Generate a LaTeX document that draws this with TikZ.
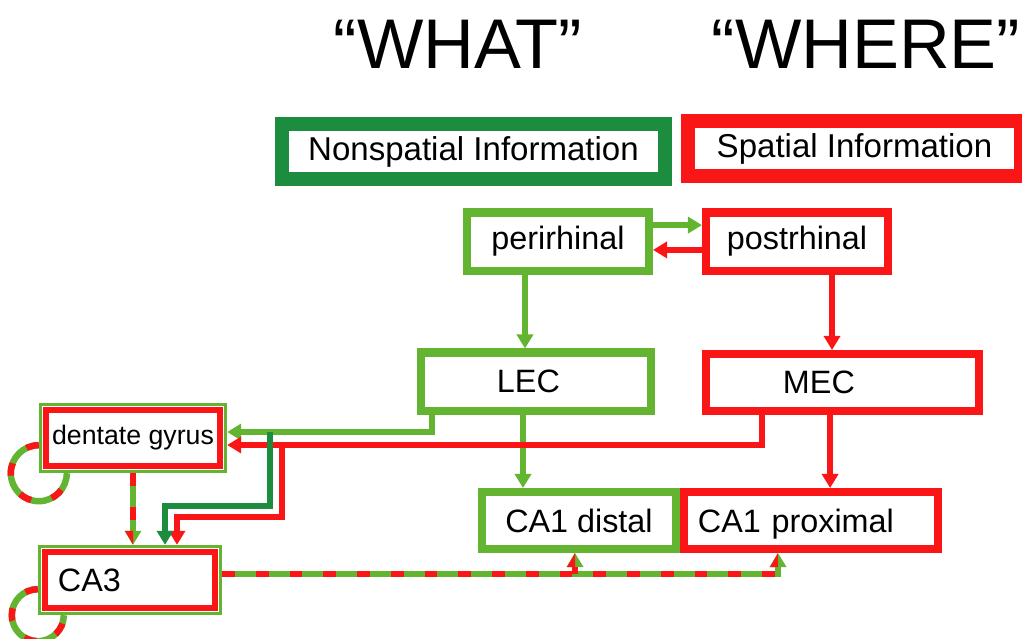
\documentclass[tikz,border=0pt]{standalone}
\usepackage{fontspec}
\setmainfont{Liberation Sans}
\usetikzlibrary{arrows.meta,positioning,calc,fit}

\definecolor{lgreen}{RGB}{99,180,48}
\definecolor{dgreen}{RGB}{28,140,62}
\definecolor{rd}{RGB}{250,22,22}

\begin{document}
\begin{tikzpicture}[
    x=0.025cm, y=-0.025cm,
    font=\fontsize{23}{27}\selectfont,
    title/.style={font=\fontsize{50}{56}\selectfont, inner sep=0pt},
    header/.style={draw, line width=10pt, fill=white, minimum width=#1, minimum height=1.375cm, inner sep=0pt, font=\fontsize{23.5}{27}\selectfont},
    block/.style={draw, line width=5.7pt, fill=white, minimum height=1.45cm, inner sep=0pt},
    what/.style={block, draw=lgreen},
    where/.style={block, draw=rd},
    innerbox/.style={draw=rd, line width=4.3pt, fill=white, minimum height=1.4cm, inner sep=0pt},
    gframe/.style={draw=lgreen, line width=2.5pt, inner sep=0.06cm},
    headtip/.style={-{Triangle[length=0.35cm, width=0.4cm]}},
    garrow/.style={headtip, draw=lgreen, line width=4.3pt},
    rarrow/.style={headtip, draw=rd, line width=4.3pt},
    darrow/.style={headtip, draw=dgreen, line width=4.3pt},
    mixed/.style={draw=lgreen, line width=4.6pt},
    reddash/.style={draw=rd, line width=4.6pt, dash pattern=on 9pt off 15pt}
  ]
  \useasboundingbox (0,0) rectangle (1022,639);

  % titles and the two streams
  \node[title] (what) at (458,44) {“WHAT”};
  \node[title] (where) at (866,44) {“WHERE”};
  \node[header=9.575cm, draw=dgreen] (nonsp) at (473.5,151.5) {Nonspatial Information};
  \node[header=8.325cm, draw=rd] (spat) at (854.5,148.5) {Spatial Information};

  % cortex
  \node[what, minimum width=4.55cm] (peri) at (558,241.5) {perirhinal};
  \node[where, minimum width=4.55cm] (post) at (797,241.5) {postrhinal};
  \node[what, minimum width=5.75cm, text width=1.95cm, inner xsep=1.9cm, align=left] (LEC) at (536,381.5) {LEC};
  \node[where, minimum width=6.825cm, minimum height=1.425cm, text width=2.975cm, inner xsep=1.925cm, align=left] (MEC) at (842.5,382.5) {MEC};

  % hippocampus
  \node[what, minimum width=4.85cm, minimum height=1.425cm] (CA1d) at (579,520.5) {CA1 distal};
  \node[where, minimum width=6.35cm, minimum height=1.425cm, text width=5.65cm, inner xsep=0.35cm, align=left, text depth=0pt] (CA1p) at (811,520.5) {CA1 proximal};
  \node[innerbox, minimum width=4.35cm, font=\fontsize{19}{23}\selectfont] (dg) at (133,438) {dentate gyrus};
  \node[gframe, fit=(dg)] (dgf) {};
  \node[innerbox, minimum width=4.25cm, text width=3.6cm, inner xsep=0.325cm, align=left] (ca3) at (130,580) {CA3};
  \node[gframe, fit=(ca3)] (ca3f) {};

  \coordinate (gj) at (270,432);
  \coordinate (rj) at (282,445);
  \coordinate (gk) at (165,506);
  \coordinate (rk) at (177,517);

  \draw[garrow] ([yshift=0.41cm]peri.east) -- ([yshift=0.41cm]peri.east -| post.west);
  \draw[rarrow] ([yshift=-0.21cm]post.west) -- ([yshift=-0.21cm]post.west -| peri.east);
  \draw[garrow] ([xshift=-0.825cm]peri.south) -- ([xshift=-0.825cm]peri.south |- LEC.north);
  \draw[rarrow] ([xshift=0.875cm]post.south) -- ([xshift=0.875cm]post.south |- MEC.north);
  \draw[garrow] ([xshift=-0.325cm]LEC.south) -- ([xshift=-0.325cm]LEC.south |- CA1d.north);
  \draw[rarrow] ([xshift=-0.31cm]MEC.south) -- ([xshift=-0.31cm]MEC.south |- CA1p.north);

  % entorhinal input to dentate gyrus and CA3
  \draw[garrow] ([xshift=-2.6cm]LEC.south) |- (gj) -- (gj -| dgf.east);
  \draw[rarrow] ([xshift=-2.0125cm]MEC.south) |- (rj) -- (rj -| dgf.east);
  \draw[rarrow] (rj) |- (rk) -- (rk |- ca3f.north);
  \draw[darrow] (gj) |- (gk) -- (gk |- ca3f.north);

  % mixed pathways
  \draw[mixed, headtip] (dgf.south) -- (dgf.south |- ca3f.north);
  \draw[reddash, shorten >=0.35cm] (dgf.south) -- (dgf.south |- ca3f.north);
  \fill[rd] (dgf.south |- ca3f.north) -- ++(-8,-14) -- ++(8,0) -- cycle;

  \coordinate (cj) at ([yshift=0.15cm]ca3f.east);
  \coordinate (cd) at ([xshift=-0.1cm]CA1d.south);
  \coordinate (cp) at ([xshift=-0.825cm]CA1p.south);
  \draw[mixed, headtip] (cj) -| (cp);
  \draw[mixed, headtip] (cj -| cd) -- (cd);
  \draw[reddash, shorten >=0.35cm] (cj) -| (cp);
  \draw[reddash, shorten >=0.35cm] (cj -| cd) -- (cd);
  \fill[rd] (cd) -- ++(-8,14) -- ++(8,0) -- cycle;
  \fill[rd] (cp) -- ++(-8,14) -- ++(8,0) -- cycle;

  % recurrent loops
  \draw[mixed] ([yshift=0.7cm]dgf.south west) arc[start angle=90, end angle=360, radius=0.7cm];
  \draw[reddash] ([yshift=0.7cm]dgf.south west) arc[start angle=90, end angle=360, radius=0.7cm];
  \draw[mixed] ([yshift=0.65cm]ca3f.south west) arc[start angle=90, end angle=360, radius=0.65cm];
  \draw[reddash] ([yshift=0.65cm]ca3f.south west) arc[start angle=90, end angle=360, radius=0.65cm];
\end{tikzpicture}
\end{document}
